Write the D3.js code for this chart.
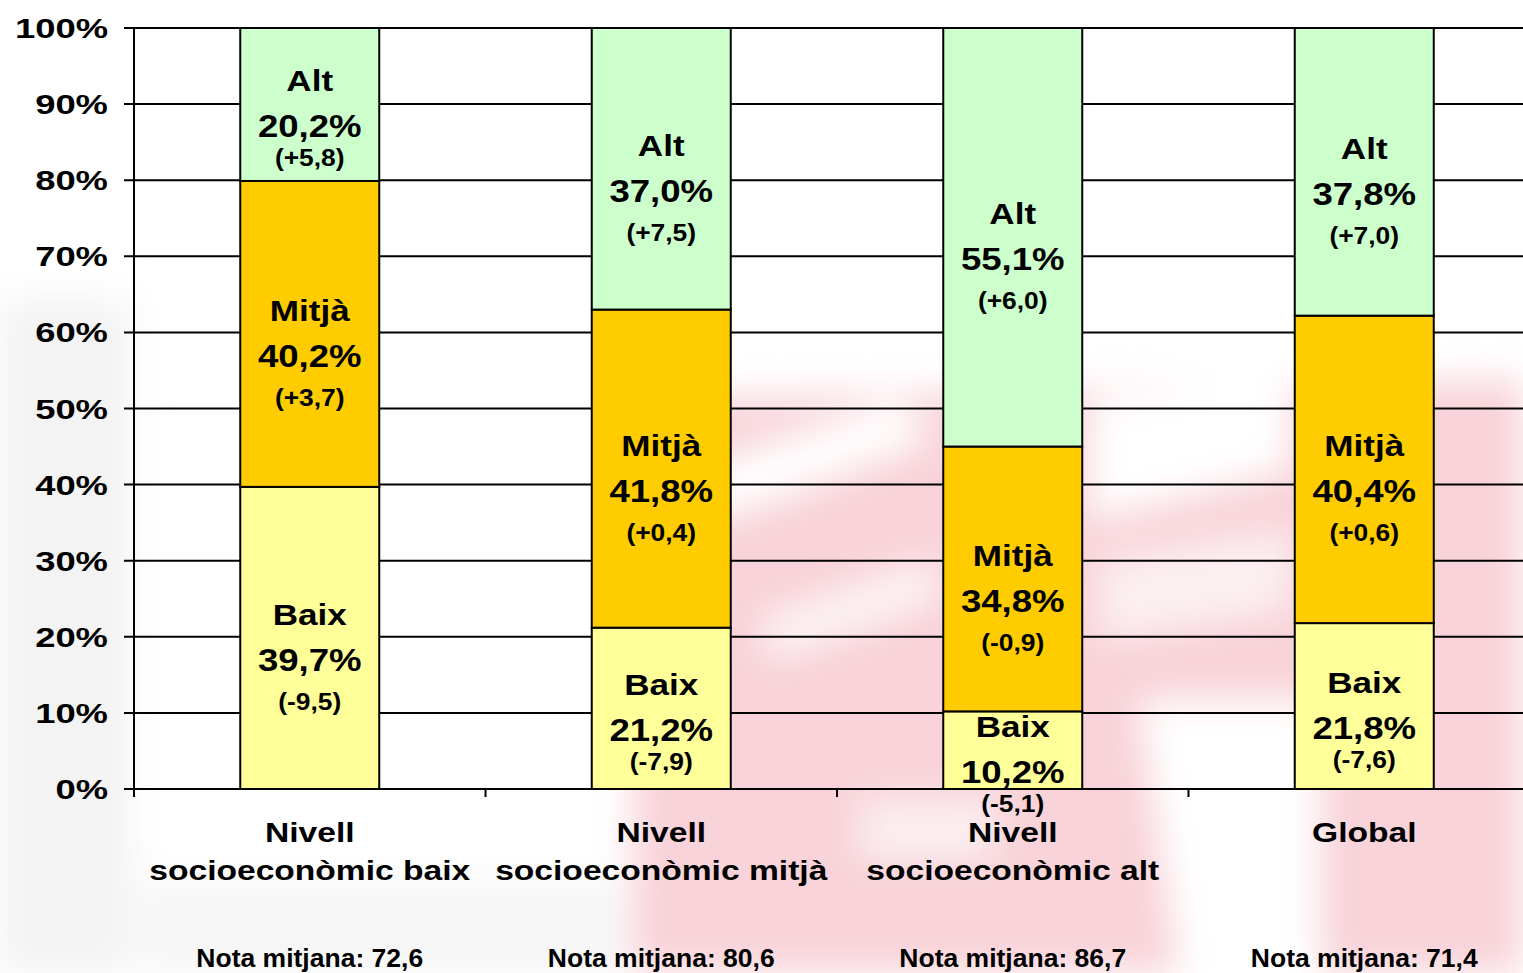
<!DOCTYPE html>
<html><head><meta charset="utf-8">
<script src="https://cdn.jsdelivr.net/npm/d3@7"></script>
<style>
html,body{margin:0;padding:0;background:#fff;}
svg{display:block;font-family:"Liberation Sans",Arial,sans-serif;font-weight:bold;}
</style></head>
<body>
<svg id="chart" width="1523" height="973"></svg>
<script>
// ---- data ----
const categories = ["Nivell socioeconòmic baix", "Nivell socioeconòmic mitjà", "Nivell socioeconòmic alt", "Global"];
const categoryLines = [["Nivell", "socioeconòmic baix"], ["Nivell", "socioeconòmic mitjà"], ["Nivell", "socioeconòmic alt"], ["Global"]];
const seriesNames = ["Baix", "Mitjà", "Alt"];
const baixValues = [39.7, 21.2, 10.2, 21.8];
const mitjaValues = [40.2, 41.8, 34.8, 40.4];
const altValues = [20.2, 37.0, 55.1, 37.8];
const baixChange = [-9.5, -7.9, -5.1, -7.6];
const mitjaChange = [3.7, 0.4, -0.9, 0.6];
const altChange = [5.8, 7.5, 6.0, 7.0];
const notaMitjana = [72.6, 80.6, 86.7, 71.4];
const yTicks = [0, 10, 20, 30, 40, 50, 60, 70, 80, 90, 100];
const seriesColors = ["#FFFF99", "#FFCC00", "#CCFFCC"];

(function () {
// ---- setup ----
const svg = d3.select("#chart");
const W = 1523, H = 973;
const plotLeft = 134, plotTop = 28, plotBottom = 789;
const step = 351.5;
const bw = 139;
const pin = 1 - bw / step;

const x = d3.scaleBand().domain(categories).range([plotLeft, plotLeft + step * categories.length])
  .paddingInner(pin).paddingOuter(pin / 2);
const y = d3.scaleLinear().domain([0, 100]).range([plotBottom, plotTop]).clamp(true);

const comma = v => d3.format(".1f")(v).replace(".", ",");
const signed = v => (v >= 0 ? "+" : "-") + comma(Math.abs(v));

// ---- faint watermark background ----
const defs = svg.append("defs");
defs.append("filter").attr("id", "blur").attr("x", "-20%").attr("y", "-20%").attr("width", "140%").attr("height", "140%")
  .append("feGaussianBlur").attr("stdDeviation", 18);
const wm = svg.append("g").attr("filter", "url(#blur)");
wm.append("path").attr("d", "M640,400 L1523,380 L1523,973 L630,973 Z").attr("fill", "#f8d3d9");
wm.append("path").attr("d", "M0,300 L130,300 L130,973 L0,973 Z").attr("fill", "#f3f3f3");
wm.append("path").attr("d", "M140,880 L620,880 L620,973 L140,973 Z").attr("fill", "#f6f6f6");
wm.append("path").attr("d", "M690,470 L900,400 L930,440 L720,520 Z").attr("fill", "#ffffff");
wm.append("path").attr("d", "M760,620 L930,560 L940,600 L770,660 Z").attr("fill", "#fdf5f6");
wm.append("path").attr("d", "M1090,400 L1290,380 L1290,470 L1090,520 Z").attr("fill", "#ffffff");
wm.append("path").attr("d", "M1100,560 L1290,530 L1290,610 L1100,640 Z").attr("fill", "#fcf0f2");
wm.append("path").attr("d", "M1140,700 L1320,700 L1320,973 L1180,973 Z").attr("fill", "#ffffff");
wm.append("path").attr("d", "M860,800 L1000,800 L990,860 L860,860 Z").attr("fill", "#fbeff1");

// ---- gridlines ----
svg.append("g").selectAll("line").data(yTicks).join("line")
  .attr("x1", plotLeft - 10).attr("x2", W)
  .attr("y1", d => y(d)).attr("y2", d => y(d))
  .attr("stroke", "#000").attr("stroke-width", 2);

svg.append("line").attr("x1", plotLeft).attr("x2", plotLeft).attr("y1", plotTop).attr("y2", plotBottom + 8)
  .attr("stroke", "#000").attr("stroke-width", 2);

svg.append("g").selectAll("line").data(categories).join("line")
  .attr("x1", d => x(d) + bw / 2 - step / 2).attr("x2", d => x(d) + bw / 2 - step / 2)
  .attr("y1", plotBottom).attr("y2", plotBottom + 8)
  .attr("stroke", "#000").attr("stroke-width", 2);

svg.append("g").selectAll("text").data(yTicks).join("text")
  .attr("transform", d => `translate(108,${y(d) + 10}) scale(1.3,1)`)
  .attr("text-anchor", "end").attr("font-size", 28).attr("fill", "#000")
  .text(d => d + "%");

// ---- stacked bars ----
const rows = categories.map((c, i) => ({ cat: c, Baix: baixValues[i], "Mitjà": mitjaValues[i], Alt: altValues[i] }));
const changes = { Baix: baixChange, "Mitjà": mitjaChange, Alt: altChange };
const stack = d3.stack().keys(seriesNames)(rows);

const layers = svg.append("g").selectAll("g").data(stack).join("g")
  .attr("fill", (d, i) => seriesColors[i]);
layers.selectAll("rect").data(d => d).join("rect")
  .attr("x", d => x(d.data.cat))
  .attr("width", x.bandwidth())
  .attr("y", d => y(d[1]))
  .attr("height", d => y(d[0]) - y(d[1]))
  .attr("stroke", "#000").attr("stroke-width", 2);

// ---- in-bar labels ----
const lab = svg.append("g").attr("fill", "#000");
stack.forEach(layer => {
  const key = layer.key;
  layer.forEach((d, i) => {
    const lo = Math.min(100, d[0]), hi = Math.min(100, d[1]);
    const cx = x(d.data.cat) + x.bandwidth() / 2;
    const vc = (y(lo) + y(hi)) / 2 + 22;
    const gap = (hi - lo) < 25 ? 32 : 42;
    lab.append("text").attr("transform", `translate(${cx},${vc - 46 + 11}) scale(1.17,1)`)
      .attr("text-anchor", "middle").attr("font-size", 30).text(key);
    lab.append("text").attr("transform", `translate(${cx},${vc + 11}) scale(1.18,1)`)
      .attr("text-anchor", "middle").attr("font-size", 31).text(comma(d.data[key]) + "%");
    lab.append("text").attr("transform", `translate(${cx},${vc + gap + 8}) scale(1.1,1)`)
      .attr("text-anchor", "middle").attr("font-size", 24).text("(" + signed(changes[key][i]) + ")");
  });
});

// ---- category labels ----
const cl = svg.append("g").attr("fill", "#000");
categories.forEach((c, i) => {
  const cx = x(c) + x.bandwidth() / 2;
  categoryLines[i].forEach((line, j) => {
    cl.append("text").attr("transform", `translate(${cx},${842 + j * 38}) scale(1.2,1)`)
      .attr("text-anchor", "middle").attr("font-size", 28).text(line);
  });
  cl.append("text").attr("transform", `translate(${cx},${967}) scale(1.02,1)`)
    .attr("text-anchor", "middle").attr("font-size", 26).text("Nota mitjana: " + comma(notaMitjana[i]));
});
})();
</script>
</body></html>
